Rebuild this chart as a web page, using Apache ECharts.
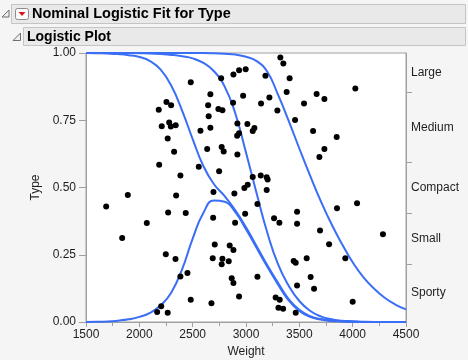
<!DOCTYPE html>
<html><head><meta charset="utf-8">
<script src="https://cdn.jsdelivr.net/npm/echarts@6/dist/echarts.min.js"></script>
<style>html,body{margin:0;padding:0;background:#f5f5f5}#c{width:468px;height:360px}</style>
</head><body><div id="c"></div>
<script>
// ---- data ----
const typeNames = ['Sporty', 'Small', 'Compact', 'Medium', 'Large'];
const typeCounts = [25, 22, 22, 30, 17];
const xTickValues = [1500, 2000, 2500, 3000, 3500, 4000, 4500];
const yTickValues = [0, 0.25, 0.5, 0.75, 1];

const weights = [2482,2254,2298,2182,2280,2210,2295,2341,2266,2326,2186,2385,
  3322,3350,2997,2935,2882,3182,2767,3409,3381,2666,2973,3219,2879,3141,2645,2741,2779,3294,
  2650,3460,2919,3013,2666,3079,3063,2573,2935,2917,2636,2772,2791,2919,2557,2748,3138,3063,
  3194,3203,3016,2985,3194,4025,3662,3735,3544,3629,3850,3735,3688,
  1892,1689,2345,2270,2435,2070,1839,2248,2339,2385,2451,2482,2205,2167,2266,
  2695,2891,3107,2692,2992,2898,3263,3313,3479,3479,2707,2847,2882,2688,2779,2772,2838,3447,
  3466,2866,2882,3107,3479,2676,2935,3278,3316,3304,3348,3466,3853,4041,3694,3779,4284,3569,
  3931,3606,3638,4000];
const typePos = [0.891,0.818,0.806,0.789,0.742,0.728,0.727,0.731,0.682,0.633,0.585,0.545,
  0.983,0.961,0.940,0.936,0.920,0.915,0.906,0.906,0.855,0.847,0.841,0.835,0.815,0.812,0.806,0.792,0.787,0.786,
  0.765,0.751,0.738,0.736,0.722,0.721,0.710,0.711,0.702,0.692,0.643,0.651,0.634,0.623,0.577,0.560,0.545,0.539,
  0.538,0.530,0.510,0.498,0.491,0.868,0.848,0.829,0.812,0.710,0.688,0.643,0.613,
  0.472,0.429,0.470,0.407,0.405,0.368,0.312,0.252,0.234,0.169,0.182,0.083,0.059,0.037,0.034,
  0.483,0.478,0.439,0.388,0.402,0.369,0.386,0.369,0.410,0.365,0.288,0.284,0.268,0.237,0.235,0.215,0.226,0.227,
  0.220,0.163,0.145,0.168,0.136,0.070,0.095,0.091,0.083,0.053,0.049,0.034,0.423,0.441,0.340,0.289,0.326,0.237,
  0.237,0.167,0.124,0.075];

const curveWeights = [1500,1600,1700,1800,1900,2000,2100,2200,2300,2400,2500,2600,2700,2800,2900,3000,
  3100,3200,3300,3400,3500,3600,3700,3800,3900,4000,4100,4200,4300,4400,4500];
const sportyCurve = [0.000,0.001,0.002,0.005,0.010,0.019,0.034,0.062,0.110,0.195,0.310,0.405,0.452,0.447,0.408,0.345,
  0.275,0.205,0.140,0.080,0.041,0.019,0.009,0.004,0.002,0.001,0,0,0,0,0];
const smallCurve = [1.000,0.999,0.998,0.996,0.992,0.985,0.970,0.938,0.878,0.787,0.680,0.580,0.512,0.468,0.415,0.352,
  0.282,0.211,0.146,0.085,0.045,0.022,0.011,0.005,0.003,0.001,0,0,0,0,0];
const compactCurve = [1,1,1,1,1,0.999,0.998,0.996,0.993,0.988,0.980,0.963,0.932,0.875,0.775,0.630,
  0.478,0.332,0.215,0.135,0.078,0.042,0.021,0.010,0.005,0.003,0.001,0,0,0,0];
const mediumCurve = [1,1,1,1,1,1,1,1,1,1,1,1,0.999,0.997,0.994,0.986,
  0.970,0.930,0.845,0.748,0.645,0.545,0.450,0.365,0.290,0.222,0.167,0.124,0.090,0.065,0.047];

// ---- derived ----
const total = typeCounts.reduce((a, b) => a + b, 0);
const bounds = [];
const mids = [];
let acc = 0;
typeCounts.forEach((c, i) => {
  const lo = acc / total; acc += c; const hi = acc / total;
  mids.push((lo + hi) / 2);
  if (i < typeCounts.length - 1) bounds.push(hi);
});
const pts = weights.map((w, i) => [w, typePos[i]]);
const mk = arr => curveWeights.map((w, i) => [w, arr[i]]);

const FONT = 'Liberation Sans, Arial, sans-serif';
const TXT = '#1e1e1e';
const AX = '#a0a0a0';
const BLUE = '#3a6ef6';

const lineSeries = [sportyCurve, smallCurve, compactCurve, mediumCurve].map(a => ({
  type: 'line', data: mk(a), showSymbol: false, symbol: 'none', smooth: 0.5,
  lineStyle: { color: BLUE, width: 2 }, silent: true, animation: false, z: 3
}));

const chart = echarts.init(document.getElementById('c'), null, { renderer: 'canvas' });
chart.setOption({
  animation: false,
  backgroundColor: '#f5f5f5',
  textStyle: { fontFamily: FONT },
  grid: { left: 86, right: 62, top: 53, bottom: 38, containLabel: false, outerBoundsMode: 'none',
    show: true, backgroundColor: '#ffffff', borderColor: AX, borderWidth: 1 },
  xAxis: {
    type: 'value', min: 1500, max: 4500, interval: 500,
    name: 'Weight', nameLocation: 'middle', nameGap: 22,
    nameTextStyle: { color: TXT, fontSize: 12, fontFamily: FONT },
    axisLine: { show: true, lineStyle: { color: AX } },
    axisTick: { show: true, length: 5, lineStyle: { color: AX } },
    minorTick: { show: true, splitNumber: 2, length: 4, lineStyle: { color: AX } },
    axisLabel: { color: TXT, fontSize: 12, margin: 7, fontFamily: FONT,
      customValues: xTickValues, formatter: v => String(v) },
    splitLine: { show: false }
  },
  yAxis: [{
    type: 'value', min: 0, max: 1, interval: 0.25,
    name: 'Type', nameLocation: 'middle', nameGap: 44,
    nameTextStyle: { color: TXT, fontSize: 12, fontFamily: FONT },
    axisLine: { show: true, lineStyle: { color: AX } },
    axisTick: { show: true, length: 7, lineStyle: { color: AX }, customValues: yTickValues },
    axisLabel: { color: TXT, fontSize: 12, margin: 10, fontFamily: FONT, customValues: yTickValues,
      formatter: v => v.toFixed(2) },
    splitLine: { show: false }
  }, {
    type: 'value', min: 0, max: 1, position: 'right',
    axisLine: { show: true, lineStyle: { color: AX } },
    axisTick: { show: true, length: 6, lineStyle: { color: AX }, customValues: bounds },
    axisLabel: { color: TXT, fontSize: 12, margin: 5, align: 'left', fontFamily: FONT, customValues: mids,
      formatter: v => {
        let best = 0;
        mids.forEach((m, i) => { if (Math.abs(m - v) < Math.abs(mids[best] - v)) best = i; });
        return typeNames[best];
      } },
    splitLine: { show: false }
  }],
  graphic: [
    { type: 'rect', shape: { x: 11.5, y: 4.5, width: 454, height: 19 },
      style: { fill: '#e9e9e9', stroke: '#c4c4c4', lineWidth: 1 } },
    { type: 'polygon', shape: { points: [[2, 17], [9, 17], [9, 10]] },
      style: { fill: '#f0f0f0', stroke: '#6e6e6e', lineWidth: 1 } },
    { type: 'rect', shape: { x: 15.5, y: 8.5, width: 13, height: 11, r: 2 },
      style: { fill: '#fbfbfb', stroke: '#8c8c8c', lineWidth: 1 } },
    { type: 'polygon', shape: { points: [[18.5, 12], [25.5, 12], [22, 16]] },
      style: { fill: '#d8151b' } },
    { type: 'text', x: 32, y: 14, style: { text: 'Nominal Logistic Fit for Type', fill: '#000',
      font: 'bold 14.5px ' + FONT, textVerticalAlign: 'middle' } },
    { type: 'rect', shape: { x: 23.5, y: 27.5, width: 442, height: 18 },
      style: { fill: '#e9e9e9', stroke: '#c4c4c4', lineWidth: 1 } },
    { type: 'polygon', shape: { points: [[13, 40.5], [20.5, 40.5], [20.5, 33]] },
      style: { fill: '#f0f0f0', stroke: '#6e6e6e', lineWidth: 1 } },
    { type: 'text', x: 27, y: 37, style: { text: 'Logistic Plot', fill: '#000',
      font: 'bold 14px ' + FONT, textVerticalAlign: 'middle' } }
  ],
  series: lineSeries.concat([{
    type: 'scatter', data: pts, symbolSize: 6, itemStyle: { color: '#000', opacity: 1 },
    silent: true, z: 4
  }])
});
</script></body></html>
